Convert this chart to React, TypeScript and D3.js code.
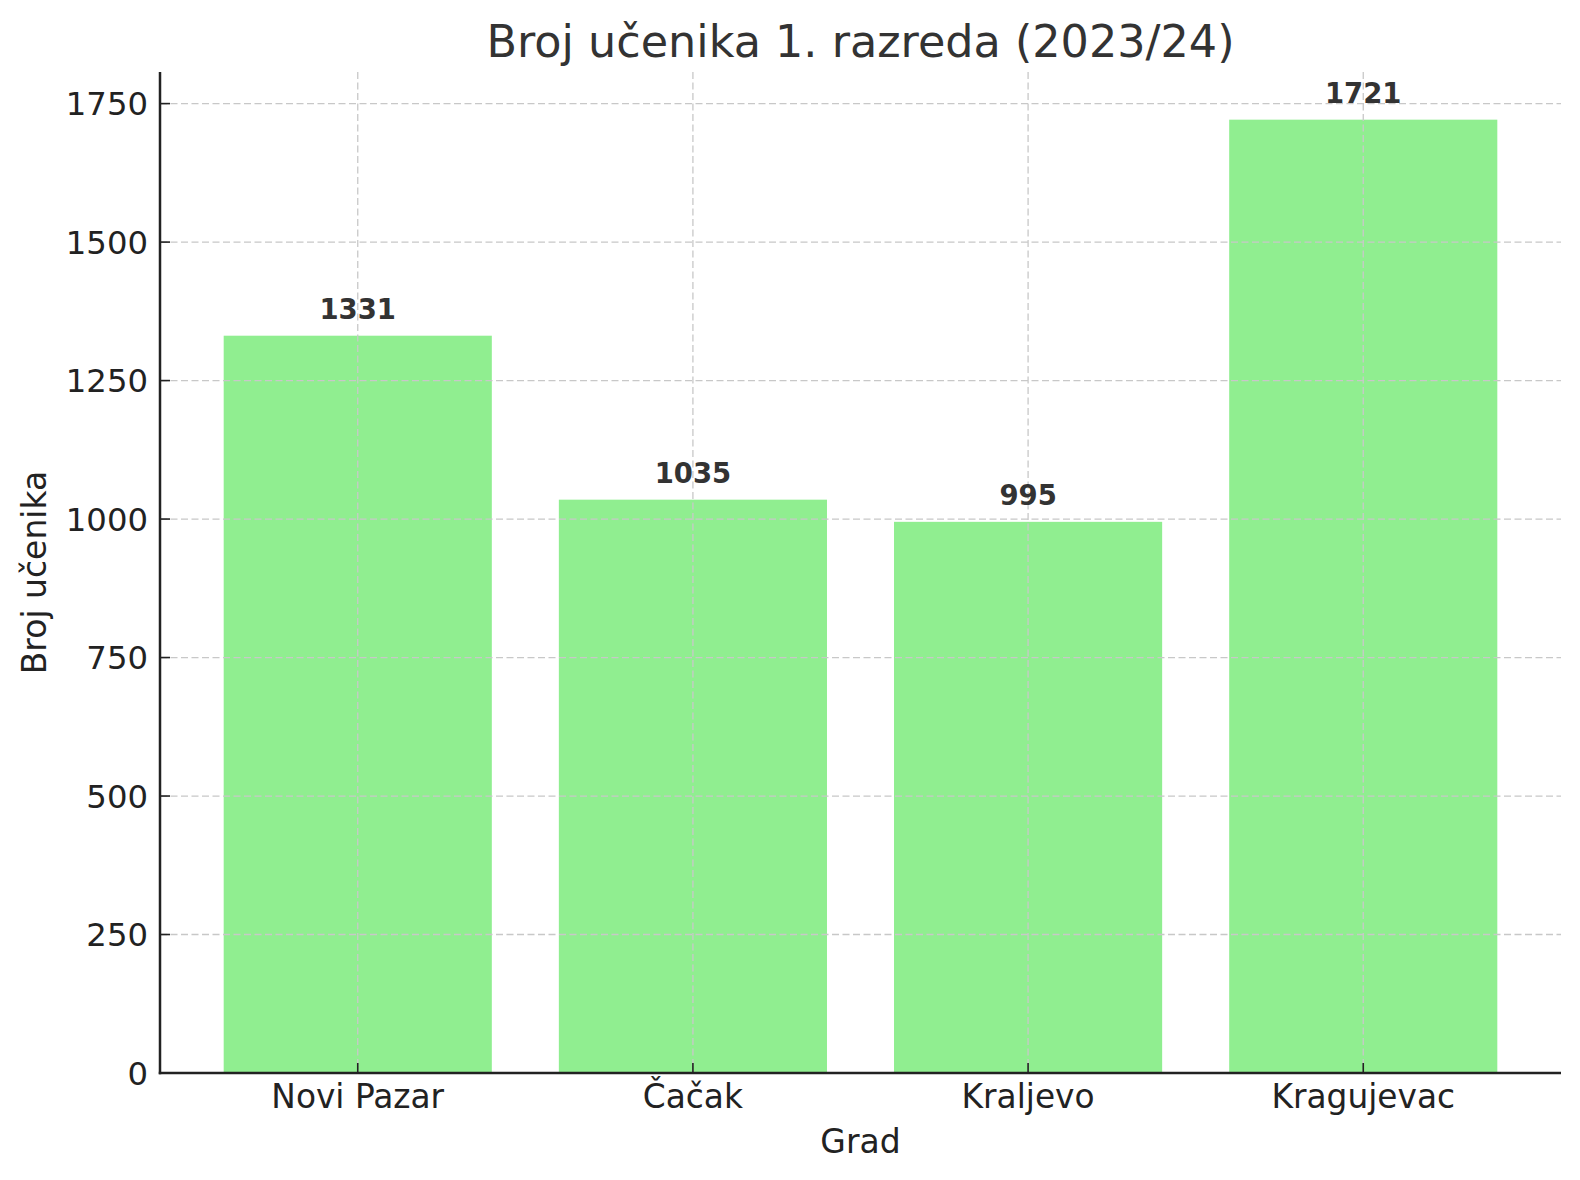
import React from "react";
import * as d3 from "d3";

const categories = ["Novi Pazar", "Čačak", "Kraljevo", "Kragujevac"];
const values = [1331, 1035, 995, 1721];
const yTicks = [0, 250, 500, 750, 1000, 1250, 1500, 1750];
const title = "Broj učenika 1. razreda (2023/24)";
const xLabel = "Grad";
const yLabel = "Broj učenika";

const W = 1580;
const H = 1180;
const M = { left: 160, right: 1561, top: 72, bottom: 1073 };
const FONT = "DejaVu Sans, sans-serif";

export default function App() {
  const n = categories.length;
  const barW = 0.8;
  const pad = (n - 1 + barW) * 0.05;
  const x = d3
    .scaleLinear()
    .domain([-barW / 2 - pad, n - 1 + barW / 2 + pad])
    .range([M.left, M.right]);
  const ymax = (d3.max(values) as number) * 1.05;
  const y = d3.scaleLinear().domain([0, ymax]).range([M.bottom, M.top]);
  const gridColor = "#c8c8c8";
  const axisColor = "#222";

  return (
    <svg width={W} height={H} style={{ display: "block", margin: "-8px" }} fontFamily={FONT}>
      <rect width={W} height={H} fill="#fff" />
      {/* bars */}
      {values.map((v, i) => (
        <rect
          key={"b" + i}
          x={x(i - barW / 2)}
          y={y(v)}
          width={x(i + barW / 2) - x(i - barW / 2)}
          height={y(0) - y(v)}
          fill="#90EE90"
        />
      ))}
      {/* grid */}
      {yTicks.map((t) => (
        <line
          key={"gy" + t}
          x1={M.left}
          x2={M.right}
          y1={y(t)}
          y2={y(t)}
          stroke={gridColor}
          strokeWidth={1.3}
          strokeDasharray="7,3.5"
        />
      ))}
      {categories.map((c, i) => (
        <line
          key={"gx" + i}
          x1={x(i)}
          x2={x(i)}
          y1={M.top}
          y2={M.bottom}
          stroke={gridColor}
          strokeWidth={1.3}
          strokeDasharray="7,3.5"
        />
      ))}
      {/* value labels */}
      {values.map((v, i) => (
        <text
          key={"vl" + i}
          x={x(i)}
          y={y(v) - 17}
          textAnchor="middle"
          fontSize={27.5}
          fontWeight="bold"
          fill="#333"
        >
          {v}
        </text>
      ))}
      {/* spines */}
      <line x1={M.left} x2={M.left} y1={M.top} y2={M.bottom + 1.25} stroke={axisColor} strokeWidth={2.5} />
      <line x1={M.left - 1.25} x2={M.right} y1={M.bottom} y2={M.bottom} stroke={axisColor} strokeWidth={2.5} />
      {/* y ticks */}
      {yTicks.map((t) => (
        <g key={"yt" + t}>
          <line x1={M.left} x2={M.left + 10} y1={y(t)} y2={y(t)} stroke={axisColor} strokeWidth={1.6} />
          <text x={148} y={y(t)} dy="0.36em" textAnchor="end" fontSize={32.3} fill="#222">
            {t}
          </text>
        </g>
      ))}
      {/* x ticks */}
      {categories.map((c, i) => (
        <g key={"xt" + i}>
          <line x1={x(i)} x2={x(i)} y1={M.bottom} y2={M.bottom - 10} stroke={axisColor} strokeWidth={1.6} />
          <text x={x(i)} y={1108} textAnchor="middle" fontSize={32.8} fill="#222">
            {c}
          </text>
        </g>
      ))}
      {/* axis labels */}
      <text x={(M.left + M.right) / 2} y={1153} textAnchor="middle" fontSize={33} fill="#222">
        {xLabel}
      </text>
      <text
        transform={`translate(46, ${(M.top + M.bottom) / 2}) rotate(-90)`}
        textAnchor="middle"
        fontSize={33}
        fill="#222"
      >
        {yLabel}
      </text>
      <text x={(M.left + M.right) / 2} y={57} textAnchor="middle" fontSize={44.5} fill="#333">
        {title}
      </text>
    </svg>
  );
}
